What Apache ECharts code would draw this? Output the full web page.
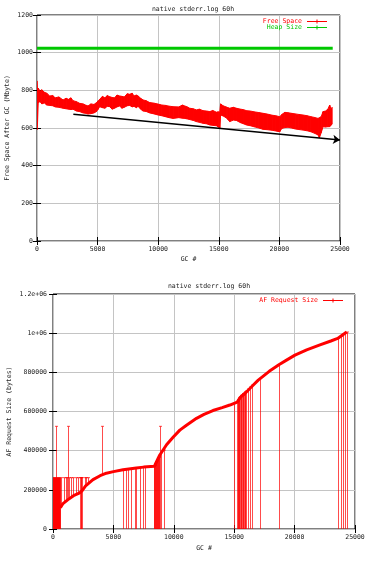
<!DOCTYPE html>
<html><head><meta charset="utf-8">
<script src="https://cdn.jsdelivr.net/npm/echarts@6/dist/echarts.min.js"></script>
<style>html,body{margin:0;padding:0;background:#fff}#c{width:371px;height:563px}</style>
</head><body><div id="c"></div>
<script>
// ---------- shared ----------
const titleText = 'native stderr.log 60h';
const xTicks = ['0', '5000', '10000', '15000', '20000', '25000'];

// ---------- top chart: Free Space After GC ----------
const fsGc   = [0, 40, 100, 250, 400, 600, 800, 1050, 1300, 1500, 1800, 2150, 2400, 2600, 2800, 2970, 3250, 3520, 3800, 4000, 4210, 4450, 4700, 4900, 5050, 5170, 5400, 5600, 5800, 6000, 6200, 6400, 6600, 6820, 7000, 7200, 7450, 7650, 7850, 8000, 8200, 8340, 8550, 8750, 9000, 9300, 9650, 9990, 10300, 10600, 10900, 11230, 11700, 12000, 12190, 12400, 12600, 12900, 13150, 13400, 13700, 14000, 14260, 14500, 14800, 14950, 15080, 15150, 15350, 15600, 15750, 15900, 16200, 16450, 16800, 17050, 17280, 17600, 18000, 18300, 18650, 19000, 19400, 19700, 20030, 20200, 20450, 20710, 21000, 21300, 21600, 21950, 22300, 22600, 22900, 23190, 23300, 23450, 23600, 23800, 24000, 24150, 24250, 24350];
const fsLow  = [590, 620, 735, 740, 728, 733, 722, 720, 718, 712, 710, 705, 702, 700, 698, 700, 690, 687, 680, 678, 674, 676, 680, 687, 700, 713, 708, 705, 715, 713, 700, 705, 712, 717, 705, 710, 718, 720, 712, 715, 708, 715, 700, 690, 688, 680, 675, 669, 665, 660, 655, 651, 655, 652, 651, 648, 645, 640, 634, 630, 625, 622, 616, 614, 612, 605, 600, 669, 664, 655, 645, 634, 642, 640, 628, 622, 616, 612, 605, 600, 593, 591, 588, 584, 580, 598, 602, 604, 600, 595, 592, 589, 585, 580, 572, 563, 548, 575, 607, 605, 607, 607, 615, 620];
const fsHigh = [850, 800, 812, 795, 803, 790, 785, 770, 772, 760, 765, 749, 758, 752, 760, 745, 740, 731, 728, 722, 717, 728, 725, 734, 745, 752, 768, 760, 772, 766, 762, 760, 775, 770, 768, 765, 782, 779, 785, 770, 775, 770, 758, 749, 745, 735, 732, 727, 722, 720, 716, 713, 712, 722, 717, 712, 705, 702, 696, 700, 692, 690, 687, 693, 684, 686, 684, 728, 718, 712, 708, 705, 710, 705, 700, 697, 692, 690, 685, 682, 678, 674, 668, 665, 660, 672, 683, 681, 678, 675, 672, 669, 665, 660, 656, 651, 655, 660, 687, 690, 700, 722, 700, 710];
const heapGc  = [0, 24400];
const heapVal = [1024, 1024];
const trendGc  = [3000, 25000];
const trendVal = [673, 536];
const topYTicks = ['0', '200', '400', '600', '800', '1000', '1200'];

// ---------- bottom chart: AF Request Size ----------
const afGc  = [610, 800, 1240, 1700, 2210, 2400, 2700, 3310, 3900, 4420, 5000, 5800, 6900, 7500, 8400, 8500, 8840, 9400, 9940, 10500, 11050, 11880, 12500, 13240, 14000, 14640, 15250, 15500, 15890, 16500, 16990, 17900, 18730, 19400, 20030, 21000, 22100, 23000, 23566, 24310];
const afVal = [108000, 128000, 150000, 170000, 184000, 195000, 220000, 252000, 272000, 285000, 293000, 303000, 312000, 316000, 320000, 335000, 378000, 430000, 468000, 505000, 530000, 565000, 585000, 605000, 620000, 633000, 648000, 672000, 692000, 730000, 760000, 805000, 840000, 865000, 888000, 915000, 940000, 960000, 973000, 1006000];
const bandGc  = [0, 610];
const bandLow = [0, 0];
const bandHigh = [262144, 262144];
const spikeGc = [690, 890, 1050, 1190, 1330, 1520, 1660, 1880, 2070, 2630, 2770, 2900,
  2210, 2280, 2350, 2420,
  280, 1240, 4060, 8870,
  5800, 6025, 6215, 6490, 6770, 6910, 7180, 7460, 7600,
  8360, 8400, 8440, 8480, 8520, 8560, 8600, 8640, 8680, 8720, 8760, 8800, 8980, 9200,
  14975, 15250, 15290, 15330, 15370, 15410, 15450, 15530, 15580, 15640, 15700, 15750, 15800, 15860, 15920, 15970, 16160, 16300, 16490, 17130, 18730,
  23620, 23810, 24030, 24200, 24310];
const spikeLo = [118000, 130000, 142000, 148000, 155000, 162000, 168000, 175000, 180000, 225000, 232000, 240000,
  0, 0, 0, 0,
  0, 150000, 280000, 0,
  0, 0, 0, 0, 0, 0, 0, 0, 0,
  0, 0, 0, 0, 0, 0, 0, 0, 0, 0, 0, 0, 0, 0,
  0, 0, 0, 0, 0, 0, 0, 0, 0, 0, 0, 0, 0, 0, 0, 0, 0, 0, 0, 0, 0,
  0, 0, 0, 0, 0];
const spikeHi = [262144, 262144, 262144, 262144, 262144, 262144, 262144, 262144, 262144, 262144, 262144, 262144,
  262144, 262144, 262144, 262144,
  524288, 524288, 524288, 524288,
  303000, 305000, 307000, 309000, 311000, 312000, 314000, 315000, 316000,
  320000, 321000, 325000, 332000, 338000, 342000, 348000, 352000, 358000, 362000, 366000, 372000, 390000, 403000,
  642000, 650000, 652000, 660000, 665000, 670000, 675000, 680000, 683000, 686000, 690000, 692000, 695000, 698000, 701000, 705000, 715000, 725000, 735000, 768000, 840000,
  975000, 985000, 995000, 1003000, 1006000];
const botYTicks = ['0', '200000', '400000', '600000', '800000', '1e+06', '1.2e+06'];

// ---------- build ----------
const FONT = 'DejaVu Sans Mono';
const TXT = '#222';
const RED = '#ff0000';
const GREEN = '#00c800';
const iconPath = 'path://M0,7 L40,7 L40,9 L0,9 Z M19,4 L21,4 L21,12 L19,12 Z';

function bandSeries(name, gcArr, loArr, hiArr, xi, yi, color) {
  const data = gcArr.map((g, i) => [g, loArr[i], hiArr[i]]);
  return {
    name, type: 'custom', xAxisIndex: xi, yAxisIndex: yi, silent: true, clip: true,
    encode: { x: 0, y: [1, 2] }, itemStyle: { color },
    data,
    renderItem(params, api) {
      const i = params.dataIndex;
      if (i >= data.length - 1) return null;
      const a = data[i], b = data[i + 1];
      const pts = [api.coord([a[0], a[2]]), api.coord([b[0], b[2]]), api.coord([b[0], b[1]]), api.coord([a[0], a[1]])];
      return { type: 'polygon', shape: { points: pts }, style: { fill: color, stroke: color, lineWidth: 1 } };
    }
  };
}

function spikeSeries(xi, yi) {
  const data = spikeGc.map((g, i) => [g, spikeLo[i], spikeHi[i]]);
  return {
    name: 'spikes', type: 'custom', xAxisIndex: xi, yAxisIndex: yi, silent: true, clip: true,
    encode: { x: 0, y: [1, 2] },
    data,
    renderItem(params, api) {
      const p1 = api.coord([api.value(0), api.value(1)]);
      const p2 = api.coord([api.value(0), api.value(2)]);
      const x = Math.round(p1[0]) + 0.5;
      return { type: 'group', children: [
        { type: 'line', shape: { x1: x, y1: p1[1], x2: x, y2: p2[1] }, style: { stroke: 'rgba(255,0,0,0.7)', lineWidth: 1 } },
        { type: 'line', shape: { x1: x - 1.5, y1: p2[1], x2: x + 1.5, y2: p2[1] }, style: { stroke: 'rgba(255,0,0,0.7)', lineWidth: 1 } }
      ] };
    }
  };
}

const tickStyle = { inside: true, length: 4, lineStyle: { color: '#000', width: 1 } };
const splitStyle = { show: true, lineStyle: { color: '#c4c4c4', width: 1 } };
const lblStyle = { color: TXT, fontFamily: FONT, fontSize: 6.5 };

function xAxes(gi) {
  return [
    { type: 'value', gridIndex: gi, min: 0, max: 25000, interval: 5000, position: 'bottom',
      axisLine: { show: false }, axisTick: tickStyle, splitLine: splitStyle,
      axisLabel: Object.assign({ margin: 5, formatter: (v) => xTicks[Math.round(v / 5000)] }, lblStyle),
      name: 'GC #', nameLocation: 'middle', nameGap: gi === 0 ? 15 : 16, nameMoveOverlap: false,
      nameTextStyle: { color: TXT, fontFamily: FONT, fontSize: 6.5 } },
    { type: 'value', gridIndex: gi, min: 0, max: 25000, interval: 5000, position: 'top',
      axisLine: { show: false }, axisTick: tickStyle, splitLine: { show: false }, axisLabel: { show: false } }
  ];
}

const option = {
  animation: false,
  backgroundColor: '#fff',
  title: [
    { text: titleText, left: 188, top: 1, textAlign: 'center', textStyle: { color: TXT, fontFamily: FONT, fontSize: 6.5, fontWeight: 'normal' } },
    { text: titleText, left: 204, top: 278, textAlign: 'center', textStyle: { color: TXT, fontFamily: FONT, fontSize: 6.5, fontWeight: 'normal' } }
  ],
  grid: [
    { left: 37, right: 31, top: 15, bottom: 322, show: true, borderColor: '#000', borderWidth: 1, backgroundColor: 'transparent', containLabel: false, outerBoundsMode: 'none' },
    { left: 53, right: 16, top: 294, bottom: 34, show: true, borderColor: '#000', borderWidth: 1, backgroundColor: 'transparent', containLabel: false, outerBoundsMode: 'none' }
  ],
  xAxis: xAxes(0).concat(xAxes(1)),
  yAxis: [
    { type: 'value', gridIndex: 0, min: 0, max: 1200, interval: 200, position: 'left',
      axisLine: { show: false }, axisTick: tickStyle, splitLine: splitStyle,
      axisLabel: Object.assign({ margin: 4, formatter: (v) => topYTicks[Math.round(v / 200)] }, lblStyle),
      name: 'Free Space After GC (Mbyte)', nameLocation: 'middle', nameGap: 26, nameMoveOverlap: false,
      nameTextStyle: { color: TXT, fontFamily: FONT, fontSize: 6.5 } },
    { type: 'value', gridIndex: 0, min: 0, max: 1200, interval: 200, position: 'right',
      axisLine: { show: false }, axisTick: tickStyle, splitLine: { show: false }, axisLabel: { show: false } },
    { type: 'value', gridIndex: 1, min: 0, max: 1200000, interval: 200000, position: 'left',
      axisLine: { show: false }, axisTick: tickStyle, splitLine: splitStyle,
      axisLabel: Object.assign({ margin: 6, formatter: (v) => botYTicks[Math.round(v / 200000)] }, lblStyle),
      name: 'AF Request Size (bytes)', nameLocation: 'middle', nameGap: 40, nameMoveOverlap: false,
      nameTextStyle: { color: TXT, fontFamily: FONT, fontSize: 6.5 } },
    { type: 'value', gridIndex: 1, min: 0, max: 1200000, interval: 200000, position: 'right',
      axisLine: { show: false }, axisTick: tickStyle, splitLine: { show: false }, axisLabel: { show: false } }
  ],
  legend: [
    { orient: 'vertical', right: 39, top: 13, align: 'right', itemWidth: 20, itemHeight: 4, itemGap: -1,
      selectedMode: false,
      textStyle: { fontFamily: FONT, fontSize: 6.5, lineHeight: 6, padding: [0, 0, 0, 0] },
      data: [
        { name: 'Free Space', icon: iconPath, itemStyle: { color: RED }, textStyle: { color: RED } },
        { name: 'Heap Size', icon: iconPath, itemStyle: { color: GREEN }, textStyle: { color: GREEN } }
      ] },
    { orient: 'vertical', right: 23, top: 292, align: 'right', itemWidth: 20, itemHeight: 4,
      selectedMode: false,
      textStyle: { fontFamily: FONT, fontSize: 6.5, lineHeight: 6 },
      data: [ { name: 'AF Request Size', icon: iconPath, itemStyle: { color: RED }, textStyle: { color: RED } } ] }
  ],
  series: [
    bandSeries('Free Space', fsGc, fsLow, fsHigh, 0, 0, RED),
    { name: 'Heap Size', type: 'line', xAxisIndex: 0, yAxisIndex: 0, symbol: 'none', silent: true,
      data: heapGc.map((g, i) => [g, heapVal[i]]), itemStyle: { color: GREEN }, lineStyle: { color: GREEN, width: 3 } },
    { name: 'trend', type: 'line', xAxisIndex: 0, yAxisIndex: 0, symbol: 'none', silent: true,
      data: trendGc.map((g, i) => [g, trendVal[i]]), lineStyle: { opacity: 0 },
      markLine: { silent: true, symbol: ['none', 'arrow'], symbolSize: 7, label: { show: false },
        lineStyle: { color: '#000', width: 1.5, type: 'solid' },
        data: [[{ coord: [trendGc[0], trendVal[0]] }, { coord: [trendGc[1], trendVal[1]] }]] } },
    bandSeries('band', bandGc, bandLow, bandHigh, 2, 2, RED),
    spikeSeries(2, 2),
    { name: 'AF Request Size', type: 'line', xAxisIndex: 2, yAxisIndex: 2, symbol: 'none', silent: true,
      data: afGc.map((g, i) => [g, afVal[i]]), itemStyle: { color: RED }, lineStyle: { color: RED, width: 3 } }
  ]
};

const chart = echarts.init(document.getElementById('c'), null, { renderer: 'canvas' });
chart.setOption(option);
</script>
</body></html>
